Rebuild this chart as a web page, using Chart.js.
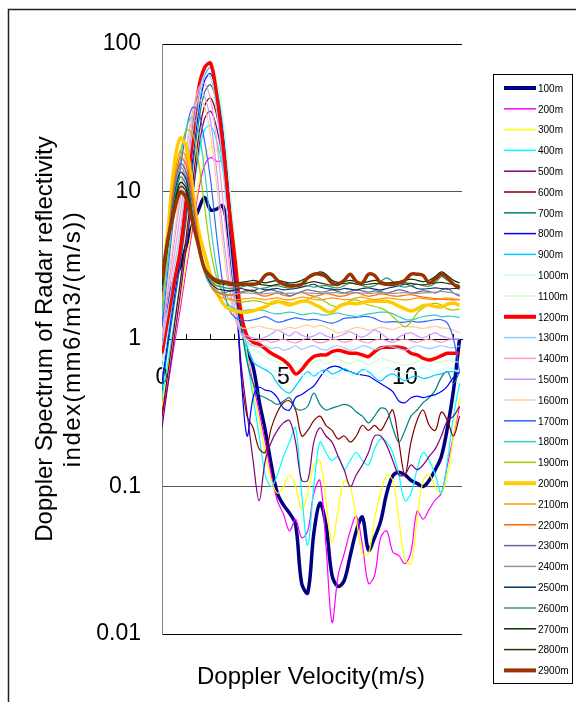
<!DOCTYPE html>
<html>
<head>
<meta charset="utf-8">
<script src="https://cdn.jsdelivr.net/npm/chart.js@4.4.1/dist/chart.umd.min.js"></script>
<style>
  html, body { margin: 0; padding: 0; background: #fff; }
  #wrap { width: 576px; height: 702px; }
</style>
</head>
<body>
<div id="wrap"><canvas id="chart" width="576" height="702"></canvas></div>
<script>
// Doppler velocity bins (m/s)
const velocity = [
  0, 0.25, 0.5, 0.75, 1, 1.25, 1.5, 1.75, 2, 2.25,
  2.5, 2.75, 3, 3.25, 3.5, 3.75, 4, 4.25, 4.5, 4.75,
  5, 5.25, 5.5, 5.75, 6, 6.25, 6.5, 6.75, 7, 7.25,
  7.5, 7.75, 8, 8.25, 8.5, 8.75, 9, 9.25, 9.5, 9.75,
  10, 10.25, 10.5, 10.75, 11, 11.25, 11.5, 11.75, 12, 12.25
];

const heights = ['100m', '200m', '300m', '400m', '500m', '600m', '700m', '800m', '900m', '1000m',
  '1100m', '1200m', '1300m', '1400m', '1500m', '1600m', '1700m', '1800m', '1900m', '2000m',
  '2100m', '2200m', '2300m', '2400m', '2500m', '2600m', '2700m', '2800m', '2900m'];

const yTicks = [0.01, 0.1, 1, 10, 100];
const xLabelTicks = [0, 5, 10];
const xTitle = 'Doppler Velocity(m/s)';
const yTitle = ['Doppler Spectrum of Radar reflectivity', 'index(mm6/m3/(m/s))'];

const s100m = [
  1.3, 1.8, 2.5, 3.1, 4.3, 5.9, 7.5, 9.1, 7.5, 7.6,
  8.0, 5.0, 2.2, 1.3, 0.85, 0.65, 0.38, 0.24, 0.14, 0.09,
  0.075, 0.066, 0.055, 0.022, 0.019, 0.048, 0.077, 0.055, 0.025, 0.021,
  0.023, 0.034, 0.05, 0.062, 0.037, 0.045, 0.058, 0.09, 0.118, 0.125,
  0.12, 0.11, 0.105, 0.1, 0.11, 0.13, 0.16, 0.25, 0.45, 1.0];
const s200m = [
  0.3, 0.5, 0.9, 1.6, 3, 5.5, 10, 15, 17, 16,
  16, 9, 3.5, 1.5, 0.8, 0.5, 0.32, 0.2, 0.12, 0.08,
  0.065, 0.05, 0.06, 0.045, 0.05, 0.09, 0.11, 0.04, 0.012, 0.025,
  0.035, 0.05, 0.063, 0.04, 0.022, 0.025, 0.045, 0.05, 0.036, 0.034,
  0.03, 0.036, 0.068, 0.06, 0.07, 0.081, 0.09, 0.14, 0.22, 0.35];
const s300m = [
  0.35, 0.6, 1.0, 1.8, 3.3, 6, 11, 17, 20, 19,
  18, 11, 4.5, 1.8, 0.8, 0.45, 0.28, 0.17, 0.11, 0.09,
  0.1, 0.12, 0.1, 0.07, 0.09, 0.14, 0.15, 0.08, 0.042, 0.07,
  0.11, 0.1, 0.06, 0.035, 0.035, 0.06, 0.09, 0.12, 0.11, 0.06,
  0.032, 0.03, 0.06, 0.11, 0.12, 0.1, 0.09, 0.12, 0.22, 0.4];
const s400m = [
  0.4, 0.7, 1.3, 2.4, 4.5, 9, 17, 26, 28, 22,
  14, 7, 3, 1.4, 0.75, 0.4, 0.22, 0.12, 0.1, 0.12,
  0.16, 0.2, 0.25, 0.09, 0.04, 0.1, 0.2, 0.17, 0.15, 0.16,
  0.13, 0.15, 0.17, 0.15, 0.14, 0.18, 0.21, 0.2, 0.17, 0.12,
  0.08, 0.09, 0.13, 0.17, 0.15, 0.12, 0.09, 0.15, 0.3, 0.5];
const s500m = [
  0.25, 0.5, 1.0, 2.0, 4.2, 9, 19, 31, 35, 27,
  16, 7, 2.5, 0.7, 0.32, 0.15, 0.08, 0.15, 0.2, 0.24,
  0.27, 0.28, 0.2, 0.11, 0.11, 0.2, 0.25, 0.22, 0.2, 0.16,
  0.13, 0.1, 0.12, 0.14, 0.17, 0.22, 0.22, 0.19, 0.15, 0.12,
  0.12, 0.14, 0.13, 0.14, 0.16, 0.18, 0.22, 0.28, 0.3, 0.35];
const s600m = [
  0.3, 0.6, 1.2, 2.4, 5, 11, 23, 38, 43, 33,
  19, 8, 3, 0.6, 0.3, 0.25, 0.18, 0.17, 0.25, 0.32,
  0.37, 0.38, 0.33, 0.22, 0.24, 0.28, 0.3, 0.26, 0.24, 0.21,
  0.22, 0.2, 0.22, 0.26, 0.24, 0.26, 0.24, 0.28, 0.33, 0.2,
  0.12, 0.2, 0.28, 0.33, 0.26, 0.24, 0.32, 0.28, 0.22, 0.3];
const s700m = [
  0.45, 0.9, 1.7, 3.2, 6.5, 14, 29, 47, 53, 40,
  23, 10, 3.5, 1.3, 0.7, 0.5, 0.42, 0.4, 0.38, 0.36,
  0.38, 0.4, 0.34, 0.33, 0.35, 0.43, 0.36, 0.33, 0.34, 0.35,
  0.36, 0.35, 0.32, 0.3, 0.27, 0.3, 0.34, 0.33, 0.25, 0.2,
  0.24, 0.3, 0.33, 0.37, 0.4, 0.45, 0.55, 0.6, 0.5, 0.6];
const s800m = [
  0.5, 1.0, 1.9, 3.6, 7.5, 16, 34, 56, 63, 47,
  27, 11, 3, 0.6, 0.22, 0.4, 0.47, 0.45, 0.44, 0.4,
  0.34, 0.33, 0.4, 0.42, 0.45, 0.48, 0.55, 0.62, 0.65, 0.65,
  0.62, 0.6, 0.58, 0.57, 0.56, 0.53, 0.5, 0.47, 0.44, 0.38,
  0.37, 0.4, 0.41, 0.4, 0.41, 0.42, 0.44, 0.48, 0.55, 0.6];
const s900m = [
  0.6, 1.1, 2.1, 4, 8.5, 18, 38, 61, 69, 52,
  30, 12, 4, 1.6, 0.9, 0.7, 0.65, 0.62, 0.58, 0.5,
  0.45, 0.43, 0.48, 0.55, 0.6, 0.56, 0.6, 0.62, 0.58, 0.6,
  0.63, 0.6, 0.58, 0.62, 0.6, 0.55, 0.52, 0.56, 0.58, 0.55,
  0.52, 0.55, 0.56, 0.54, 0.55, 0.57, 0.58, 0.6, 0.6, 0.6];
const s1000m = [
  0.6, 1.2, 2.3, 4.4, 9, 19, 40, 64, 72, 55,
  32, 13, 4.5, 1.7, 0.95, 0.75, 0.68, 0.64, 0.62, 0.6,
  0.58, 0.6, 0.62, 0.58, 0.55, 0.58, 0.6, 0.56, 0.54, 0.57,
  0.6, 0.58, 0.56, 0.6, 0.62, 0.58, 0.6, 0.64, 0.62, 0.6,
  0.58, 0.6, 0.62, 0.64, 0.62, 0.6, 0.62, 0.64, 0.62, 0.6];
const s1100m = [
  0.7, 1.3, 2.4, 4.6, 9.5, 20, 42, 67, 77, 58,
  33, 13, 4.5, 1.8, 1.0, 0.85, 0.8, 0.76, 0.72, 0.7,
  0.68, 0.7, 0.72, 0.68, 0.66, 0.7, 0.72, 0.68, 0.7, 0.73,
  0.7, 0.68, 0.72, 0.7, 0.67, 0.7, 0.74, 0.72, 0.7, 0.68,
  0.66, 0.68, 0.7, 0.74, 0.72, 0.7, 0.7, 0.72, 0.7, 0.7];
const s1200m = [
  0.8, 1.4, 2.4, 4.0, 9, 22, 49, 69, 74, 45,
  21, 8, 3.5, 1.5, 1.05, 0.95, 0.92, 0.86, 0.8, 0.76,
  0.72, 0.66, 0.58, 0.62, 0.7, 0.76, 0.78, 0.78, 0.82, 0.84,
  0.82, 0.8, 0.8, 0.78, 0.76, 0.82, 0.87, 0.88, 0.88, 0.88,
  0.86, 0.8, 0.78, 0.74, 0.72, 0.74, 0.77, 0.8, 0.8, 0.8];
const s1300m = [
  0.9, 1.6, 3, 5.5, 12, 25, 45, 62, 60, 35,
  15, 5, 2, 1.1, 0.95, 0.9, 0.88, 0.9, 0.86, 0.88,
  0.84, 0.86, 0.9, 0.85, 0.88, 0.9, 0.86, 0.84, 0.88, 0.9,
  0.87, 0.84, 0.86, 0.9, 0.88, 0.85, 0.87, 0.9, 0.88, 0.86,
  0.84, 0.87, 0.9, 0.88, 0.86, 0.88, 0.9, 0.88, 0.87, 0.9];
const s1400m = [
  1.0, 1.9, 3.6, 7, 15, 30, 50, 54, 42, 22,
  9, 3.5, 1.6, 1.1, 1.0, 0.98, 0.96, 0.98, 0.95, 0.97,
  1.0, 0.96, 0.94, 0.98, 1.02, 0.97, 0.94, 0.96, 1.0, 0.98,
  0.95, 0.97, 1.0, 0.96, 0.94, 0.98, 1.0, 0.97, 0.95, 0.98,
  1.0, 0.97, 0.95, 0.98, 1.0, 0.97, 0.95, 0.98, 1.0, 1.0];
const s1500m = [
  1.0, 2.2, 4.5, 9, 19, 34, 47, 44, 30, 14,
  5.5, 2.5, 1.4, 1.1, 1.05, 1.02, 1.0, 1.03, 1.08, 1.15,
  1.1, 1.05, 1.12, 1.06, 1.03, 1.05, 1.1, 1.05, 1.02, 1.04,
  1.08, 1.12, 1.06, 1.03, 1.08, 1.15, 1.1, 1.02, 0.98, 1.03,
  1.08, 1.1, 1.05, 1.02, 1.06, 1.1, 1.05, 1.02, 1.0, 1.0];
const s1600m = [
  1.1, 2.5, 5, 10, 20, 33, 42, 38, 24, 11,
  4.5, 2.2, 1.4, 1.2, 1.18, 1.2, 1.22, 1.19, 1.17, 1.15,
  1.16, 1.2, 1.18, 1.22, 1.24, 1.2, 1.24, 1.2, 1.15, 1.1,
  1.12, 1.16, 1.2, 1.18, 1.15, 1.17, 1.2, 1.18, 1.16, 1.2,
  1.22, 1.21, 1.2, 1.18, 1.2, 1.22, 1.19, 1.18, 1.15, 1.1];
const s1700m = [
  1.2, 3, 7, 14, 26, 37, 35, 22, 12, 5,
  2.4, 1.6, 1.4, 1.35, 1.33, 1.35, 1.38, 1.42, 1.36, 1.3,
  1.32, 1.36, 1.39, 1.37, 1.35, 1.36, 1.34, 1.3, 1.28, 1.32,
  1.38, 1.39, 1.4, 1.42, 1.42, 1.38, 1.32, 1.3, 1.31, 1.3,
  1.3, 1.32, 1.3, 1.31, 1.33, 1.35, 1.35, 1.28, 1.0, 0.6];
const s1800m = [
  1.4, 3.5, 8, 16, 27, 32, 26, 14, 6, 3,
  2.0, 1.7, 1.6, 1.56, 1.57, 1.58, 1.57, 1.55, 1.5, 1.48,
  1.5, 1.52, 1.5, 1.46, 1.48, 1.5, 1.47, 1.45, 1.48, 1.5,
  1.46, 1.44, 1.42, 1.45, 1.48, 1.5, 1.52, 1.52, 1.48, 1.42,
  1.36, 1.35, 1.38, 1.42, 1.44, 1.45, 1.42, 1.43, 1.42, 1.4];
const s1900m = [
  1.7, 4, 9.5, 18, 26, 25, 16, 8, 4, 2.6,
  2.1, 1.9, 1.8, 1.78, 1.8, 1.82, 1.8, 1.75, 1.72, 1.76,
  1.8, 1.75, 1.75, 1.8, 1.86, 1.93, 1.88, 1.78, 1.68, 1.66,
  1.72, 1.82, 1.84, 1.76, 1.7, 1.66, 1.62, 1.55, 1.42, 1.3,
  1.21, 1.3, 1.5, 1.62, 1.7, 1.75, 1.7, 1.6, 1.57, 1.6];
const s2000m = [
  2.4, 5.5, 15, 23, 20, 10.5, 5.5, 3.8, 2.7, 2.1,
  1.75, 1.6, 1.55, 1.52, 1.52, 1.55, 1.6, 1.65, 1.75, 1.8,
  1.75, 1.7, 1.75, 1.8, 1.8, 1.72, 1.65, 1.55, 1.52, 1.65,
  1.72, 1.75, 1.73, 1.76, 1.8, 1.8, 1.8, 1.8, 1.75, 1.67,
  1.6, 1.55, 1.6, 1.68, 1.7, 1.66, 1.65, 1.72, 1.75, 1.7];
const s2100m = [
  1.9, 5, 12, 19, 17, 10, 5, 3, 2.3, 2.0,
  1.9, 1.85, 1.84, 1.86, 1.88, 1.9, 1.87, 1.85, 1.88, 1.9,
  1.86, 1.84, 1.88, 1.92, 1.9, 1.86, 1.84, 1.87, 1.9, 1.88,
  1.85, 1.86, 1.9, 1.92, 1.88, 1.85, 1.87, 1.9, 1.88, 1.86,
  1.84, 1.86, 1.9, 1.88, 1.86, 1.85, 1.88, 1.9, 1.87, 1.85];
const s2200m = [
  1.9, 4.8, 11, 17, 15, 9, 4.8, 3, 2.3, 2.1,
  2.0, 1.98, 2.0, 2.05, 2.1, 2.15, 2.0, 1.95, 2.0, 2.05,
  1.98, 1.95, 2.02, 2.08, 2.0, 1.95, 1.98, 2.04, 2.0, 1.95,
  1.96, 2.02, 2.06, 2.0, 1.95, 1.98, 2.02, 2.0, 1.96, 1.95,
  1.98, 2.0, 1.96, 1.92, 1.9, 1.88, 1.86, 1.85, 1.84, 1.85];
const s2300m = [
  2.0, 4.6, 10, 15.5, 13.5, 8, 4.5, 2.9, 2.3, 2.1,
  2.05, 2.1, 2.12, 2.08, 2.15, 2.1, 2.05, 2.12, 2.15, 2.1,
  2.05, 1.96, 2.02, 2.1, 2.15, 2.12, 2.08, 2.1, 2.15, 2.1,
  2.05, 2.1, 2.15, 2.12, 2.08, 2.12, 2.1, 2.05, 2.1, 2.15,
  2.12, 2.05, 2.08, 2.12, 2.1, 2.05, 2.15, 2.2, 2.05, 1.95];
const s2400m = [
  2.0, 4.5, 9.5, 14.5, 12.5, 7.5, 4.3, 2.8, 2.3, 2.1,
  2.05, 2.0, 2.02, 2.05, 2.05, 2.04, 2.02, 2.03, 2.05, 2.04,
  2.03, 2.04, 2.05, 2.06, 2.05, 2.04, 2.03, 2.05, 2.06, 2.05,
  2.04, 2.05, 2.06, 2.05, 2.04, 2.05, 2.06, 2.05, 2.04, 2.05,
  2.06, 2.05, 2.04, 2.05, 2.06, 2.08, 2.1, 2.08, 2.05, 2.0];
const s2500m = [
  2.1, 4.5, 9, 13.5, 12, 7, 4.2, 2.9, 2.4, 2.2,
  2.15, 2.12, 2.15, 2.2, 2.15, 2.12, 2.2, 2.15, 2.18, 2.2,
  2.15, 2.18, 2.2, 2.25, 2.3, 2.35, 2.25, 2.2, 2.18, 2.15,
  2.2, 2.18, 2.15, 2.2, 2.22, 2.18, 2.15, 2.2, 2.25, 2.3,
  2.35, 2.3, 2.2, 2.18, 2.2, 2.22, 2.2, 2.18, 2.2, 2.2];
const s2600m = [
  2.2, 4.5, 8.5, 12.5, 11, 7, 4.2, 2.9, 2.5, 2.3,
  2.25, 2.2, 2.22, 2.25, 2.3, 2.25, 2.2, 2.22, 2.28, 2.3,
  2.25, 2.22, 2.28, 2.35, 2.3, 2.25, 2.28, 2.3, 2.25, 2.22,
  2.3, 2.4, 2.35, 2.3, 2.25, 2.3, 2.45, 2.6, 2.45, 2.3,
  2.25, 2.3, 2.35, 2.3, 2.28, 2.4, 2.65, 2.5, 2.35, 2.3];
const s2700m = [
  2.3, 4.5, 8, 11.5, 10.5, 6.8, 4.3, 3.0, 2.6, 2.45,
  2.4, 2.38, 2.4, 2.42, 2.45, 2.5, 2.45, 2.4, 2.45, 2.5,
  2.45, 2.4, 2.42, 2.5, 2.6, 2.7, 2.85, 2.75, 2.5, 2.42,
  2.45, 2.5, 2.45, 2.4, 2.45, 2.5, 2.45, 2.4, 2.42, 2.45,
  2.5, 2.55, 2.5, 2.45, 2.5, 2.65, 2.85, 2.7, 2.5, 2.4];
const s2800m = [
  2.3, 4.5, 7.8, 10.8, 10, 6.6, 4.3, 3.0, 2.6, 2.4,
  2.35, 2.32, 2.3, 2.33, 2.35, 2.38, 2.35, 2.32, 2.3, 2.35,
  2.38, 2.35, 2.32, 2.35, 2.4, 2.45, 2.4, 2.35, 2.32, 2.35,
  2.38, 2.4, 2.36, 2.33, 2.35, 2.38, 2.36, 2.34, 2.35, 2.38,
  2.4, 2.38, 2.35, 2.33, 2.36, 2.4, 2.42, 2.38, 2.35, 2.3];
const s2900m = [
  2.6, 4.8, 7.3, 9.9, 9.0, 6.3, 4.3, 3.0, 2.65, 2.5,
  2.45, 2.4, 2.35, 2.35, 2.35, 2.35, 2.4, 2.7, 2.75, 2.5,
  2.35, 2.3, 2.3, 2.35, 2.6, 2.75, 2.75, 2.65, 2.4, 2.35,
  2.5, 2.75, 2.45, 2.4, 2.75, 2.7, 2.4, 2.35, 2.35, 2.4,
  2.5, 2.75, 2.75, 2.7, 2.4, 2.55, 2.75, 2.6, 2.35, 2.2];

const seriesList = [s100m, s200m, s300m, s400m, s500m, s600m, s700m, s800m, s900m, s1000m,
  s1100m, s1200m, s1300m, s1400m, s1500m, s1600m, s1700m, s1800m, s1900m, s2000m,
  s2100m, s2200m, s2300m, s2400m, s2500m, s2600m, s2700m, s2800m, s2900m];

// Excel-style palette
const colors = ['#000080', '#FF00FF', '#FFFF00', '#00FFFF', '#800080', '#800000', '#008080', '#0000FF', '#00CCFF', '#CCFFFF',
  '#CCFFCC', '#FF0000', '#99CCFF', '#FF99CC', '#CC99FF', '#FFCC99', '#3366FF', '#33CCCC', '#99CC00', '#FFCC00',
  '#FF9900', '#FF6600', '#666699', '#969696', '#003366', '#339966', '#003300', '#333300', '#993300'];
const thick = ['100m', '1200m', '2000m', '2900m'];

const FONT = "'Liberation Sans', Arial, sans-serif";
Chart.defaults.font.family = FONT;
Chart.defaults.color = '#000';

const datasets = heights.map((h, i) => ({
  label: h,
  data: velocity.map((v, k) => ({ x: v, y: seriesList[i][k] })),
  borderColor: colors[i],
  backgroundColor: colors[i],
  borderWidth: thick.includes(h) ? 3.5 : 1.2,
  pointRadius: 0,
  tension: 0.35,
  fill: false,
  borderJoinStyle: 'round',
  order: heights.length - i
}));

// frame, axis titles and boxed legend
const decorPlugin = {
  id: 'decor',
  afterDraw(chart) {
    const ctx = chart.ctx;
    const area = chart.chartArea;
    ctx.save();
    ctx.strokeStyle = '#222';
    ctx.lineWidth = 1.5;
    ctx.beginPath();
    ctx.moveTo(8.5, 702);
    ctx.lineTo(8.5, 9.5);
    ctx.lineTo(576, 9.5);
    ctx.stroke();

    ctx.fillStyle = '#000';
    ctx.font = '24px ' + FONT;
    ctx.textAlign = 'center';
    ctx.textBaseline = 'middle';
    ctx.fillText(xTitle, 311, 677);

    const midY = (area.top + area.bottom) / 2;
    ctx.save();
    ctx.translate(45, midY);
    ctx.rotate(-Math.PI / 2);
    ctx.fillText(yTitle[0], 0, 0);
    ctx.restore();
    ctx.save();
    ctx.translate(73, midY);
    ctx.rotate(-Math.PI / 2);
    ctx.letterSpacing = '1.5px';
    ctx.fillText(yTitle[1], 0, 0);
    ctx.restore();

    ctx.lineWidth = 1;
    ctx.strokeStyle = '#000';
    ctx.strokeRect(493.5, 74.5, 79, 609);
    ctx.font = '10px ' + FONT;
    ctx.textAlign = 'left';
    chart.data.datasets.forEach((ds, i) => {
      const y = 88 + i * 20.8;
      ctx.strokeStyle = ds.borderColor;
      ctx.lineWidth = ds.borderWidth > 2 ? 4 : 1.5;
      ctx.beginPath();
      ctx.moveTo(504, y);
      ctx.lineTo(536, y);
      ctx.stroke();
      ctx.fillStyle = '#000';
      ctx.fillText(ds.label, 538, y + 1);
    });
    ctx.restore();
  }
};

new Chart(document.getElementById('chart'), {
  type: 'line',
  data: { datasets },
  options: {
    responsive: false,
    animation: false,
    events: [],
    layout: { padding: { left: 0, right: 114, top: 44, bottom: 68 } },
    plugins: { legend: { display: false }, tooltip: { enabled: false } },
    scales: {
      x: {
        type: 'linear',
        min: 0,
        max: 12.35,
        position: { y: 1 },
        grid: { drawOnChartArea: false, drawTicks: true, tickLength: -6, color: '#000' },
        border: { color: '#000', width: 1 },
        ticks: {
          stepSize: 1,
          autoSkip: false,
          includeBounds: false,
          maxRotation: 0,
          padding: 31,
          font: { size: 23 },
          color: '#000',
          callback: (v) => xLabelTicks.includes(v) ? String(v) : ''
        }
      },
      y: {
        type: 'logarithmic',
        min: 0.01,
        max: 100,
        afterBuildTicks: (axis) => { axis.ticks = yTicks.map(v => ({ value: v })); },
        afterFit: (axis) => { axis.width = 162; },
        grid: {
          drawTicks: false,
          color: (c) => (c.tick && (c.tick.value === 100 || c.tick.value === 0.01 || c.tick.value === 1)) ? '#000' : '#555'
        },
        border: { color: '#808080', width: 1 },
        ticks: {
          autoSkip: false,
          padding: 21,
          font: { size: 23 },
          color: '#000',
          callback: (v) => String(v)
        }
      }
    }
  },
  plugins: [decorPlugin]
});
</script>
</body>
</html>
